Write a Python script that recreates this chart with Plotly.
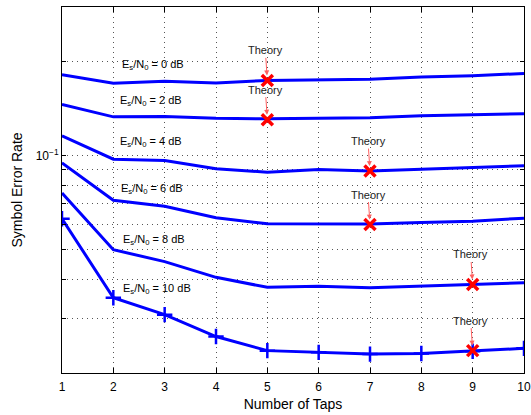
import plotly.graph_objects as go
import numpy as np

taps = [1, 2, 3, 4, 5, 6, 7, 8, 9, 10]

ser_0db = [0.1817, 0.1708, 0.1733, 0.1711, 0.1742, 0.1755, 0.1759, 0.1786, 0.1804, 0.1835]
ser_2db = [0.1459, 0.1331, 0.1335, 0.1317, 0.1312, 0.1318, 0.1322, 0.1342, 0.1355, 0.1362]
ser_4db = [0.1157, 0.0973, 0.0964, 0.0906, 0.0884, 0.0902, 0.0892, 0.0904, 0.0913, 0.0927]
ser_6db = [0.0947, 0.0718, 0.0687, 0.0631, 0.0603, 0.0603, 0.0602, 0.0609, 0.0615, 0.0629]
ser_8db = [0.0757, 0.0498, 0.0456, 0.0406, 0.0377, 0.0380, 0.0376, 0.0381, 0.0385, 0.0390]
ser_10db = [0.0626, 0.0349, 0.0308, 0.0262, 0.0236, 0.0233, 0.0230, 0.0231, 0.0235, 0.0240]

curve_labels = ["E<sub>s</sub>/N<sub>0</sub> = 0 dB", "E<sub>s</sub>/N<sub>0</sub> = 2 dB",
                "E<sub>s</sub>/N<sub>0</sub> = 4 dB", "E<sub>s</sub>/N<sub>0</sub> = 6 dB",
                "E<sub>s</sub>/N<sub>0</sub> = 8 dB", "E<sub>s</sub>/N<sub>0</sub> = 10 dB"]
label_x = [2.13, 2.09, 2.10, 2.11, 2.14, 2.14]
label_y = [0.196, 0.1495, 0.1105, 0.0780, 0.0535, 0.0373]

theory_x = [5, 5, 7, 7, 9, 9]
theory_y = [0.1743, 0.1303, 0.0891, 0.0600, 0.0385, 0.0236]

ytick_vals = [0.02, 0.03, 0.04, 0.05, 0.06, 0.07, 0.08, 0.09, 0.1, 0.2, 0.3]
ytick_text = ["", "", "", "", "", "", "", "", "10<sup>\u22121</sup>", "", ""]

FONT = "Liberation Sans, Arial, Helvetica, sans-serif"
BLUE = "#0000ff"

fig = go.Figure()
all_series = [ser_0db, ser_2db, ser_4db, ser_6db, ser_8db]
for s in all_series:
    fig.add_trace(go.Scatter(x=taps, y=s, mode="lines",
                             line=dict(color=BLUE, width=3), showlegend=False))
fig.add_trace(go.Scatter(x=taps, y=ser_10db, mode="lines+markers",
                         line=dict(color=BLUE, width=3),
                         marker=dict(symbol="cross-thin", size=11,
                                     line=dict(color=BLUE, width=2.5)),
                         showlegend=False))
fig.add_trace(go.Scatter(x=theory_x, y=theory_y, mode="markers",
                         marker=dict(symbol="x-thin", size=11,
                                     line=dict(color="#ff0000", width=3.5)),
                         showlegend=False))

annotations = []
for t, lx, ly in zip(curve_labels, label_x, label_y):
    annotations.append(dict(x=lx, y=np.log10(ly), text=t, showarrow=False,
                            xanchor="left", yanchor="middle", align="left",
                            font=dict(family=FONT, size=11, color="black")))
for tx, ty in zip(theory_x, theory_y):
    annotations.append(dict(x=tx, y=np.log10(ty), text="Theory", showarrow=True,
                            ax=-2, ay=-30, arrowhead=2, arrowsize=1, arrowwidth=1,
                            arrowcolor="#ff6060", standoff=5,
                            font=dict(family=FONT, size=11, color="#222222")))

fig.update_layout(
    width=531, height=415,
    margin=dict(l=62, r=7, t=7, b=42),
    paper_bgcolor="white", plot_bgcolor="white",
    font=dict(family=FONT, size=12, color="black"),
    annotations=annotations,
)
fig.update_xaxes(
    range=[1, 10], tickmode="array", tickvals=taps,
    showgrid=True, gridcolor="#555555", griddash="1px,4px", gridwidth=1,
    showline=True, linecolor="black", linewidth=1, mirror="ticks",
    ticks="inside", ticklen=5, tickcolor="black",
    zeroline=False, automargin=False, ticklabelstandoff=3,
    title=dict(text="Number of Taps", font=dict(size=14), standoff=5),
    tickfont=dict(size=12),
)
fig.update_yaxes(
    type="log", range=[np.log10(0.02), np.log10(0.3)],
    tickmode="array", tickvals=ytick_vals, ticktext=ytick_text,
    showgrid=True, gridcolor="#555555", griddash="1px,4px", gridwidth=1,
    showline=True, linecolor="black", linewidth=1, mirror="ticks",
    ticks="inside", ticklen=4, tickcolor="black",
    zeroline=False, automargin=False,
    title=dict(text="Symbol Error Rate", font=dict(size=14), standoff=9),
    tickfont=dict(size=12),
)

fig.write_html("out.html", config={"displayModeBar": False},
               post_script="document.body.style.margin='0';")
